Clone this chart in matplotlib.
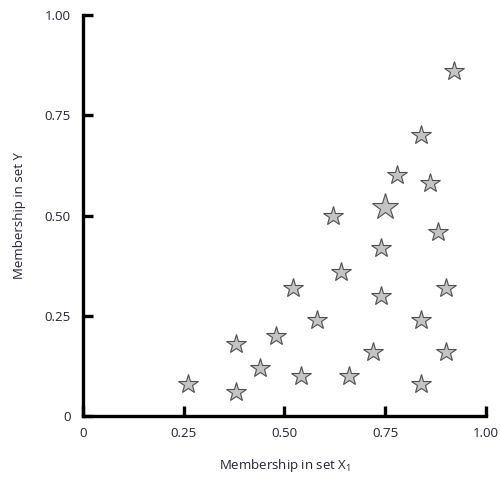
import numpy as np
import matplotlib.pyplot as plt

plt.rcParams['font.family'] = ['Open Sans', 'DejaVu Sans']
plt.rcParams['mathtext.fontset'] = 'custom'
plt.rcParams['mathtext.rm'] = 'Open Sans'
plt.rcParams['mathtext.it'] = 'Open Sans'

# Données
x_vals = [0.26, 0.38, 0.38, 0.44, 0.48, 0.52, 0.54, 0.58, 0.62, 0.64, 0.66, 0.72,
          0.74, 0.74, 0.78, 0.84, 0.84, 0.84, 0.86, 0.88, 0.90, 0.90, 0.92]
y_vals = [0.08, 0.18, 0.06, 0.12, 0.20, 0.32, 0.10, 0.24, 0.50, 0.36, 0.10, 0.16,
          0.30, 0.42, 0.60, 0.70, 0.24, 0.08, 0.58, 0.46, 0.32, 0.16, 0.86]
big_x = [0.75]
big_y = [0.52]

ticks = [0, 0.25, 0.50, 0.75, 1.00]
tick_labels = ['0', '0.25', '0.50', '0.75', '1.00']

fig = plt.figure(figsize=(5.01, 4.79), dpi=100)
ax = fig.add_axes([0.1657, 0.1315, 0.8043, 0.8372])

ax.plot(x_vals, y_vals, ls='none', marker='*', ms=14.5, mfc='#c4c4c4',
        mec='#505050', mew=0.8, clip_on=False)
ax.plot(big_x, big_y, ls='none', marker='*', ms=20, mfc='#c4c4c4',
        mec='#505050', mew=0.8, clip_on=False)

ax.set_xlim(0, 1)
ax.set_ylim(0, 1)
for s in ['top', 'right']:
    ax.spines[s].set_visible(False)
for s in ['left', 'bottom']:
    ax.spines[s].set_linewidth(2.4)
    ax.spines[s].set_capstyle('projecting')

ax.set_xticks(ticks)
ax.set_xticklabels(tick_labels)
ax.set_yticks(ticks)
ax.set_yticklabels(tick_labels)
ax.tick_params(direction='in', length=7, width=2.4, labelsize=9.5,
               labelcolor='#222233')
ax.tick_params(axis='x', pad=8)
ax.tick_params(axis='y', pad=9)

ax.set_xlabel('Membership in set X$_1$', fontsize=9.5, color='#222233', labelpad=12)
ax.set_ylabel('Membership in set Y', fontsize=9.5, color='#222233', labelpad=13)

fig.savefig('out.png', dpi=100)
